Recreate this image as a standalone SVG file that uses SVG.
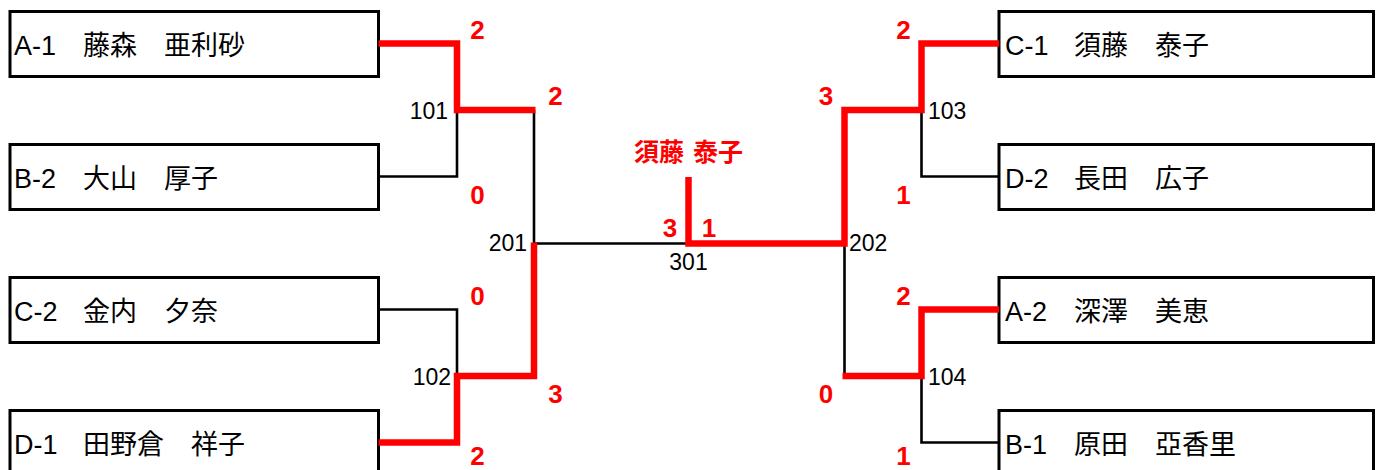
<svg xmlns="http://www.w3.org/2000/svg" width="1384" height="470" viewBox="0 0 1384 470">
<style>
.bg{fill:#fff}
.box{fill:#fff;stroke:#000;stroke-width:3}
.name{font-family:"Liberation Sans","Noto Sans CJK JP",sans-serif;font-size:27px;fill:#000}
.num{font-family:"Liberation Sans",sans-serif;font-size:23px;fill:#000}
.score{font-family:"Liberation Sans",sans-serif;font-weight:bold;font-size:26px;fill:#f00;text-anchor:middle}
.win{font-family:"Noto Sans CJK JP",sans-serif;font-weight:bold;font-size:25px;fill:#f00}
.lose{fill:none;stroke:#000;stroke-width:2.6}
.won{fill:none;stroke:#f00;stroke-width:6.5;stroke-linejoin:miter}
</style>
<rect class="bg" x="0" y="0" width="1384" height="470"/>
<g id="p-a1"><rect class="box" x="10" y="11.5" width="368.5" height="65"/><text class="name" y="54.5"><tspan x="14">A-1</tspan><tspan x="83">藤森</tspan><tspan x="164">亜利砂</tspan></text></g>
<g id="p-b2"><rect class="box" x="10" y="144.5" width="368.5" height="65"/><text class="name" y="187.5"><tspan x="14">B-2</tspan><tspan x="83">大山</tspan><tspan x="164">厚子</tspan></text></g>
<g id="p-c2"><rect class="box" x="10" y="277.5" width="368.5" height="65"/><text class="name" y="320.5"><tspan x="14">C-2</tspan><tspan x="83">金内</tspan><tspan x="164">夕奈</tspan></text></g>
<g id="p-d1"><rect class="box" x="10" y="410.5" width="368.5" height="65"/><text class="name" y="453.5"><tspan x="14">D-1</tspan><tspan x="83">田野倉</tspan><tspan x="191">祥子</tspan></text></g>
<g id="p-c1"><rect class="box" x="999" y="11.5" width="374.5" height="65"/><text class="name" y="54.5"><tspan x="1005">C-1</tspan><tspan x="1074">須藤</tspan><tspan x="1155">泰子</tspan></text></g>
<g id="p-d2"><rect class="box" x="999" y="144.5" width="374.5" height="65"/><text class="name" y="187.5"><tspan x="1005">D-2</tspan><tspan x="1074">長田</tspan><tspan x="1155">広子</tspan></text></g>
<g id="p-a2"><rect class="box" x="999" y="277.5" width="374.5" height="65"/><text class="name" y="320.5"><tspan x="1005">A-2</tspan><tspan x="1074">深澤</tspan><tspan x="1155">美恵</tspan></text></g>
<g id="p-b1"><rect class="box" x="999" y="410.5" width="374.5" height="65"/><text class="name" y="453.5"><tspan x="1005">B-1</tspan><tspan x="1074">原田</tspan><tspan x="1155">亞香里</tspan></text></g>
<g id="connectors">
<path class="lose" d="M378.5,176.5H457V110"/>
<path class="lose" d="M378.5,309.5H457V376"/>
<path class="lose" d="M534,110V243.5H688.5"/>
<path class="lose" d="M999,176.5H921.5V110"/>
<path class="lose" d="M999,442.5H921.5V376"/>
<path class="lose" d="M844.5,243.5V376"/>
<path class="won" d="M378.5,43.5H457V110H535.5"/>
<path class="won" d="M378.5,442.5H457V376H534V242.5"/>
<path class="won" d="M999,43.5H921.5V110H844.5V243.5H688.5V177"/>
<path class="won" d="M999,309.5H921.5V376H842.5"/>
</g>
<g id="match-labels">
<text class="num" x="448" y="119" text-anchor="end">101</text>
<text class="num" x="451" y="385" text-anchor="end">102</text>
<text class="num" x="527" y="251" text-anchor="end">201</text>
<text class="num" x="688.5" y="270" text-anchor="middle">301</text>
<text class="num" x="849" y="251">202</text>
<text class="num" x="928" y="119">103</text>
<text class="num" x="928" y="385">104</text>
</g>
<g id="scores">
<text class="score" x="477.5" y="38.5">2</text>
<text class="score" x="555.5" y="105">2</text>
<text class="score" x="477.5" y="204">0</text>
<text class="score" x="477.5" y="304.5">0</text>
<text class="score" x="555.5" y="403">3</text>
<text class="score" x="477.5" y="465">2</text>
<text class="score" x="903.5" y="38.5">2</text>
<text class="score" x="826" y="105">3</text>
<text class="score" x="903.5" y="204">1</text>
<text class="score" x="903.5" y="304.5">2</text>
<text class="score" x="826" y="403">0</text>
<text class="score" x="903.5" y="465">1</text>
<text class="score" x="670" y="237">3</text>
<text class="score" x="709" y="237">1</text>
</g>
<g id="winner"><text class="win" y="161"><tspan x="634">須藤</tspan><tspan x="693">泰子</tspan></text></g>
</svg>
